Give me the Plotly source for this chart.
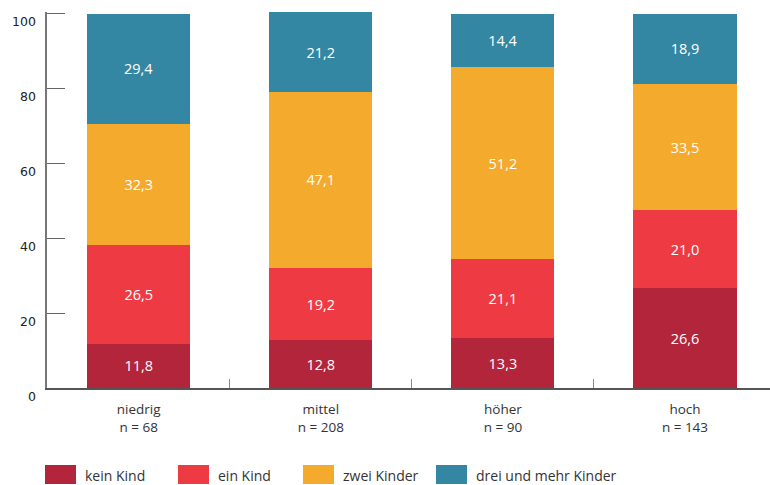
import plotly.graph_objects as go

categories = ["niedrig<br>n = 68", "mittel<br>n = 208", "höher<br>n = 90", "hoch<br>n = 143"]
series_names = ["kein Kind", "ein Kind", "zwei Kinder", "drei und mehr Kinder"]
kein_kind = [11.8, 12.8, 13.3, 26.6]
ein_kind = [26.5, 19.2, 21.1, 21.0]
zwei_kinder = [32.3, 47.1, 51.2, 33.5]
drei_mehr = [29.4, 21.2, 14.4, 18.9]
y_ticks = [0, 20, 40, 60, 80, 100]

colors = ["#B2253A", "#EE3B43", "#F3AA2D", "#3487A2"]
series_values = [kein_kind, ein_kind, zwei_kinder, drei_mehr]

W, H = 770, 485
ML, MR, MT, MB = 47, 0, 12, 97
PW, PH = W - ML - MR, H - MT - MB


def px_x(p):
    return (p - ML) / PW


def px_y(p):
    return (H - MB - p) / PH


fig = go.Figure()
for name, vals, col in zip(series_names, series_values, colors):
    fig.add_trace(go.Bar(
        x=categories, y=vals, name=name, marker=dict(color=col, line=dict(width=0)),
        texttemplate="%{y:.1f}", textposition="inside", insidetextanchor="middle",
        textangle=0, textfont=dict(color="white", size=14.5, family="Open Sans"),
        showlegend=False, hoverinfo="skip",
    ))

fig.update_layout(
    barmode="stack",
    bargap=0.434,
    separators=",.",
    width=W, height=H,
    margin=dict(l=ML, r=MR, t=MT, b=MB),
    plot_bgcolor="white", paper_bgcolor="white",
    font=dict(family="Open Sans", color="#333333", size=13),
    xaxis=dict(
        range=[-0.5036, 3.467], showgrid=False, showline=True, linecolor="#555555", linewidth=1.5,
        ticks="inside", tickson="boundaries", ticklen=9, tickcolor="#888888", tickwidth=1,
        tickfont=dict(family="Open Sans", size=13.5, color="#333333"),
        ticklabelstandoff=8,
    ),
    yaxis=dict(
        range=[0, 100.4], showgrid=False, zeroline=False, showline=True, linecolor="#777777", linewidth=1.5,
        tickvals=y_ticks, showticklabels=False,
        ticks="inside", ticklen=18, tickcolor="#666666", tickwidth=1,
    ),
)

# y tick labels (shifted below their ticks, as in the reference)
for v in y_ticks:
    fig.add_annotation(xref="paper", yref="y", x=0, y=v, text=str(v), showarrow=False,
                       xanchor="right", yanchor="middle", xshift=-9, yshift=-8,
                       font=dict(family="DejaVu Sans", size=12.5, color="#222222"))

# custom legend
leg_x = [45, 178, 303, 436]
for name, col, x0 in zip(series_names, colors, leg_x):
    fig.add_shape(type="rect", xref="paper", yref="paper",
                  x0=px_x(x0), x1=px_x(x0 + 31),
                  y0=px_y(484), y1=px_y(465),
                  fillcolor=col, line=dict(width=0))
    fig.add_annotation(xref="paper", yref="paper", x=px_x(x0 + 38), y=px_y(475),
                       text=name, showarrow=False, xanchor="left", yanchor="middle",
                       font=dict(family="Open Sans", size=14, color="#333333"))

fig.write_html("out.html", config={"displayModeBar": False},
               post_script="document.body.style.margin='0';")
